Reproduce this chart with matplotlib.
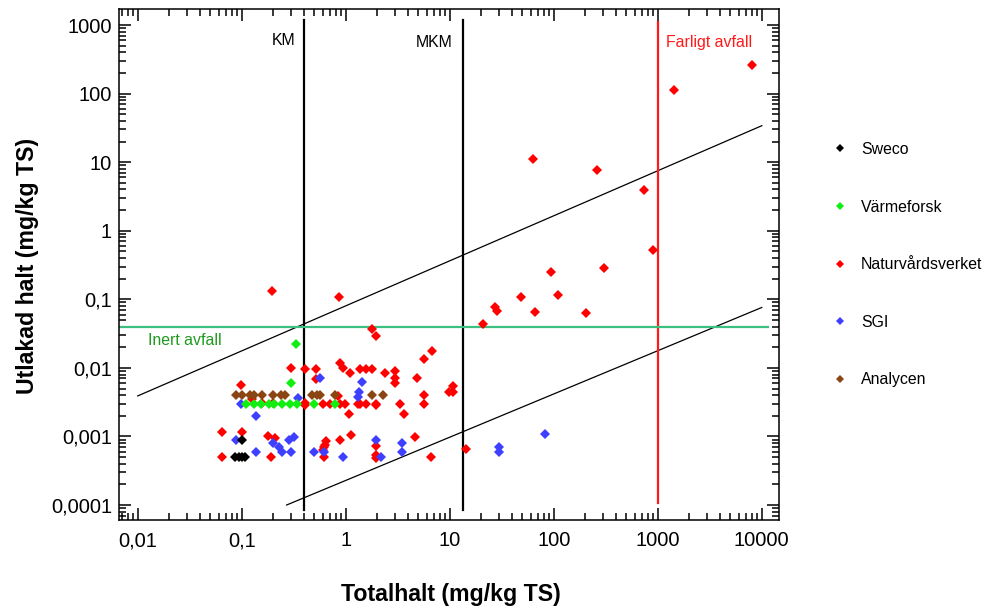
import matplotlib
matplotlib.use("Agg")
import matplotlib.pyplot as plt
from matplotlib.ticker import LogLocator, FuncFormatter, NullFormatter

plt.rcParams['font.family'] = ['Liberation Sans', 'DejaVu Sans']

# Sweco
sweco_x = [0.1, 0.087, 0.094, 0.1, 0.107]
sweco_y = [0.0009, 0.0005, 0.0005, 0.0005, 0.0005]

# Värmeforsk
varme_x = [0.33, 0.3, 0.11, 0.131, 0.153, 0.183, 0.204, 0.244, 0.292, 0.34, 0.5, 0.78]
varme_y = [0.022, 0.006, 0.003, 0.003, 0.003, 0.003, 0.003, 0.003, 0.003, 0.003, 0.003, 0.003]

# Naturvårdsverket
nv_x = [0.197, 0.87, 1.78, 1.97, 21, 27.4, 28.6, 48.5, 66, 95, 111, 205, 307, 895,
        63.7, 262, 738, 1435, 8130,
        0.3, 0.098, 0.125, 0.155, 0.2, 6.7, 5.7, 0.88, 0.95, 1.09, 1.37, 1.57, 1.8,
        2.39, 3.0, 3.0, 3.0, 4.8, 10.8, 9.8, 10.8, 0.41, 0.52, 0.52, 0.85, 5.7,
        0.41, 0.41, 0.6, 0.7, 0.88, 0.99, 1.3, 1.37, 1.57, 1.95, 1.95, 3.3, 5.7,
        1.08, 3.66, 1.13, 0.88, 4.6, 1.95, 1.95, 1.95, 6.6, 0.62, 0.65, 0.63, 0.62,
        0.61, 14.4, 0.064, 0.1, 0.18, 0.21, 0.064, 0.19]
nv_y = [0.133, 0.109, 0.037, 0.029, 0.044, 0.078, 0.068, 0.109, 0.066, 0.25, 0.117, 0.064, 0.29, 0.52,
        11.1, 7.7, 3.9, 113, 261,
        0.0098, 0.0056, 0.0035, 0.0031, 0.0031, 0.0178, 0.0135, 0.0116, 0.0098, 0.0085, 0.0096, 0.0096, 0.0096,
        0.0083, 0.0091, 0.0072, 0.006, 0.0072, 0.0054, 0.0044, 0.0044, 0.0096, 0.0096, 0.0069, 0.0039, 0.004,
        0.0031, 0.0029, 0.003, 0.003, 0.003, 0.003, 0.003, 0.003, 0.003, 0.003, 0.0029, 0.003, 0.003,
        0.0021, 0.0021, 0.00105, 0.0009, 0.00097, 0.00073, 0.00054, 0.00048, 0.0005, 0.0005, 0.00087, 0.00075, 0.0007,
        0.00063, 0.00066, 0.00115, 0.00115, 0.001, 0.00095, 0.0005, 0.0005]

# SGI
sgi_x = [0.098, 0.137, 0.35, 0.088, 0.2, 0.23, 0.245, 0.285, 0.32, 0.3, 0.137, 0.5, 0.62,
         0.95, 0.56, 1.43, 1.33, 1.32, 1.95, 3.45, 3.5, 2.2, 30, 30, 83]
sgi_y = [0.003, 0.002, 0.0036, 0.0009, 0.0008, 0.0007, 0.0006, 0.00088, 0.00097, 0.0006, 0.0006, 0.0006, 0.0006,
         0.0005, 0.0072, 0.0062, 0.0044, 0.0038, 0.0009, 0.0008, 0.0006, 0.0005, 0.0007, 0.0006, 0.00107]

# Analycen
analy_x = [0.089, 0.1, 0.12, 0.13, 0.156, 0.2, 0.24, 0.26, 0.47, 0.53, 0.56, 0.79, 1.78, 2.3]
analy_y = [0.004] * len(analy_x)

# tick positions
x_ticks = [0.01, 0.1, 1, 10, 100, 1000, 10000]
y_ticks = [0.0001, 0.001, 0.01, 0.1, 1, 10, 100, 1000]

# limit lines
km_x = 0.4
mkm_x = 13.3
farligt_x = 1000
inert_y = 0.04
upper_line_x = [0.01, 10000]
upper_line_y = [0.0039, 34]
lower_line_x = [0.27, 10000]
lower_line_y = [0.0001, 0.076]

fig = plt.figure(figsize=(9.85, 6.09), dpi=100)
ax = fig.add_axes([0.1208, 0.1461, 0.6701, 0.8391])
ax.set_xscale('log')
ax.set_yscale('log')

ax.plot(upper_line_x, upper_line_y, color='black', lw=0.9)
ax.plot(lower_line_x, lower_line_y, color='black', lw=0.9)
ax.plot([km_x, km_x], [8.4e-5, 1180], color='black', lw=1.6)
ax.plot([mkm_x, mkm_x], [8.4e-5, 1180], color='black', lw=1.6)
ax.plot([farligt_x, farligt_x], [0.000107, 1100], color='#ff1a1a', lw=1.6)
ax.plot([0.0066, 11500], [inert_y, inert_y], color='#3cc080', lw=1.6)

ax.text(0.195, 600, 'KM', fontsize=11.4, va='center', ha='left')
ax.text(4.75, 565, 'MKM', fontsize=11.4, va='center', ha='left')
ax.text(1200, 565, 'Farligt avfall', fontsize=11.4, va='center', ha='left', color='#ff1a1a')
ax.text(0.0126, 0.0247, 'Inert avfall', fontsize=11.4, va='center', ha='left', color='#1f9a1f')

ms = 4.6
ax.plot(nv_x, nv_y, 'D', color='#ff0000', ms=ms, mew=0, label='Naturvårdsverket')
ax.plot(sgi_x, sgi_y, 'D', color='#3f3fff', ms=ms, mew=0, label='SGI')
ax.plot(varme_x, varme_y, 'D', color='#11ee11', ms=ms, mew=0, label='Värmeforsk')
ax.plot(analy_x, analy_y, 'D', color='#8B4513', ms=ms, mew=0, label='Analycen')
ax.plot(sweco_x, sweco_y, 'D', color='black', ms=ms, mew=0, label='Sweco')

handles, labels = ax.get_legend_handles_labels()
order = ['Sweco', 'Värmeforsk', 'Naturvårdsverket', 'SGI', 'Analycen']
hmap = dict(zip(labels, handles))
ax.legend([hmap[k] for k in order], order, loc='upper left',
          bbox_to_anchor=(0.8447, 0.7668), bbox_transform=fig.transFigure,
          frameon=False, fontsize=11.4, handlelength=1.0, handletextpad=0.84,
          labelspacing=2.69, borderpad=0, borderaxespad=0, markerscale=0.85)

ax.set_xticks(x_ticks)
ax.set_yticks(y_ticks)
ax.xaxis.set_minor_locator(LogLocator(base=10, subs=range(2, 10), numticks=20))
ax.yaxis.set_minor_locator(LogLocator(base=10, subs=range(2, 10), numticks=20))
fmt = FuncFormatter(lambda v, p: f"{v:g}".replace('.', ','))
ax.xaxis.set_major_formatter(fmt)
ax.yaxis.set_major_formatter(fmt)
ax.xaxis.set_minor_formatter(NullFormatter())
ax.yaxis.set_minor_formatter(NullFormatter())
ax.set_xlim(0.0066, 14650)
ax.set_ylim(6.04e-5, 1711)
ax.tick_params(which='both', direction='in', top=True, right=True, width=1.1, labelsize=14.5)
ax.tick_params(which='major', length=8.5)
ax.tick_params(which='minor', length=5)
ax.tick_params(axis='x', pad=8)
ax.tick_params(axis='y', pad=5)
for s in ax.spines.values():
    s.set_linewidth(1.1)

ax.set_xlabel('Totalhalt (mg/kg TS)', fontsize=16.7, fontweight='bold', va='center')
ax.xaxis.set_label_coords(0.503, -0.145)
ax.set_ylabel('Utlakad halt (mg/kg TS)', fontsize=16.7, fontweight='bold', va='center')
ax.yaxis.set_label_coords(-0.138, 0.497)

fig.savefig('out.png', dpi=100)
